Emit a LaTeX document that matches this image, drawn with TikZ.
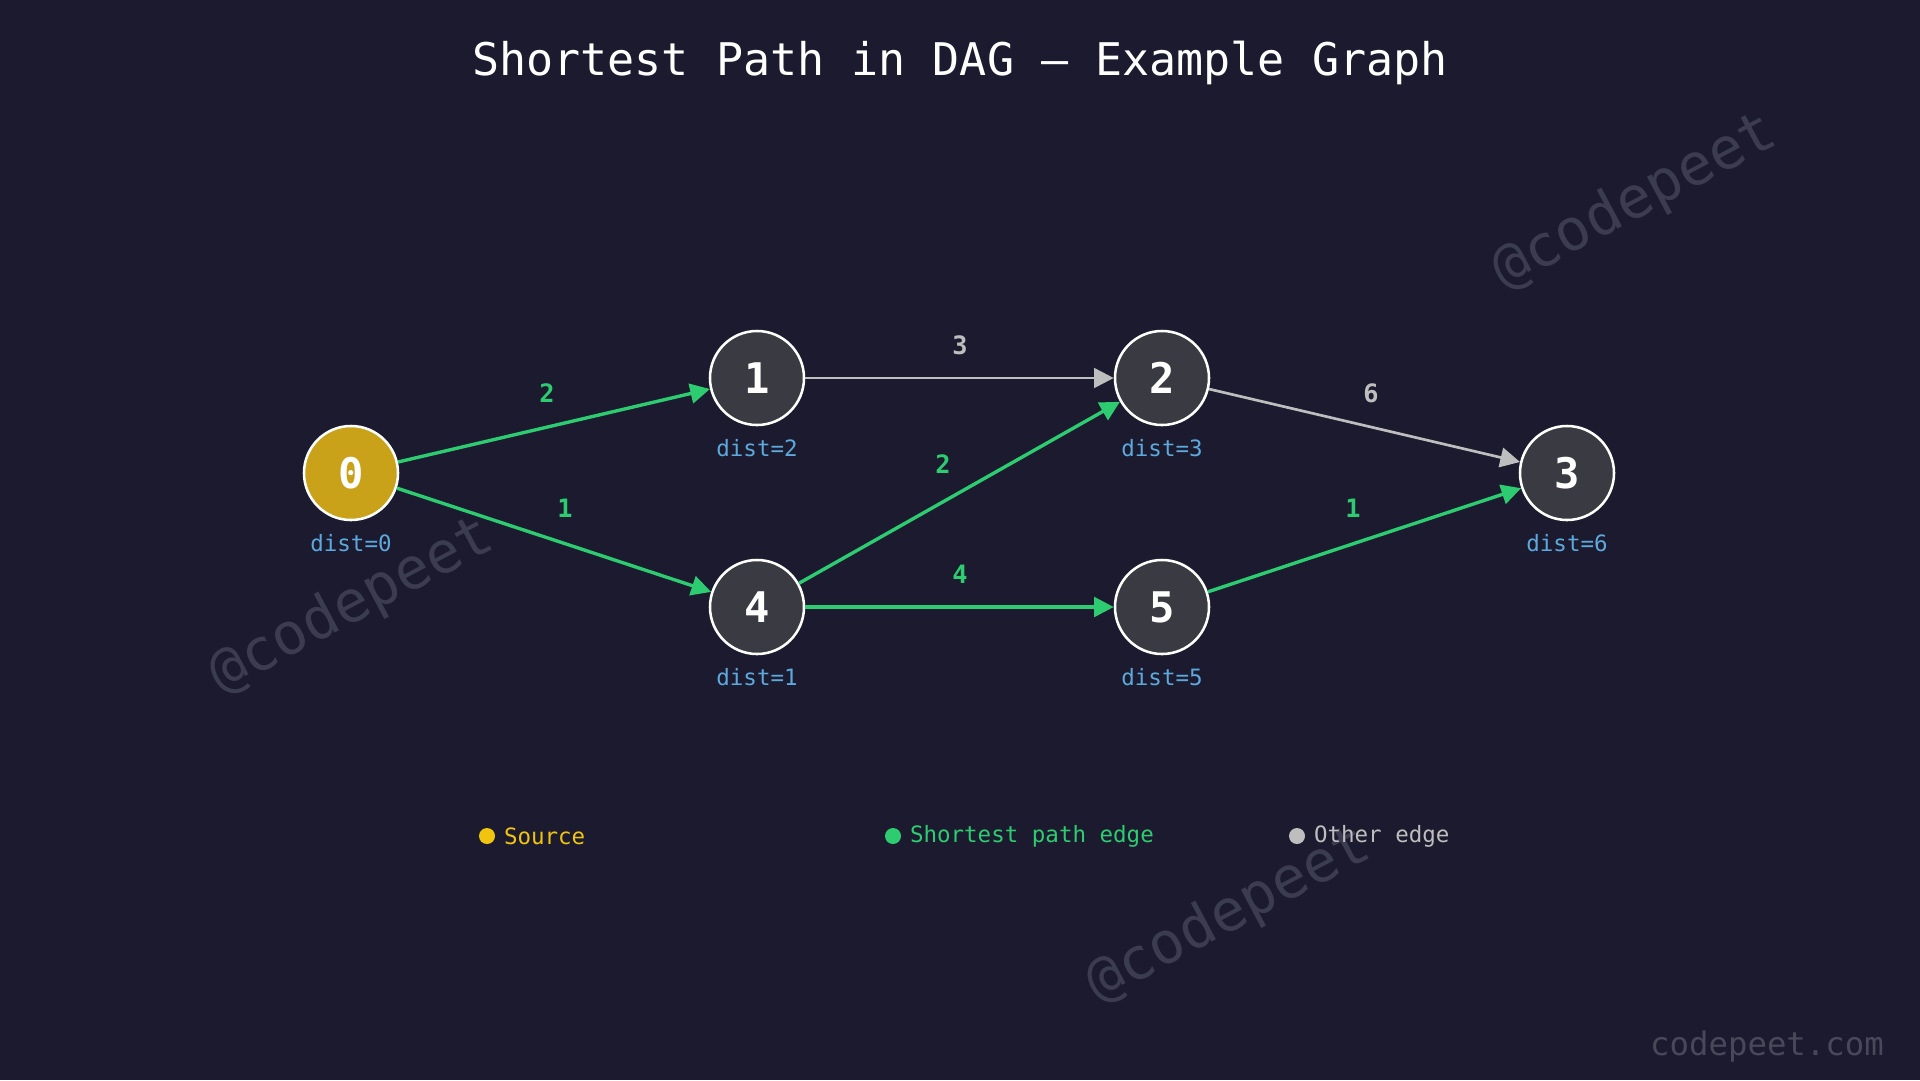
\documentclass[tikz,border=0pt]{standalone}
\usepackage{xcolor}
\usepackage{fontspec}
\setmainfont{DejaVu Sans Mono}
\usetikzlibrary{arrows.meta, positioning, calc}
\definecolor{bgcolor}{RGB}{27,26,46}
\definecolor{nodecolor}{RGB}{58,58,66}
\definecolor{sourcecolor}{RGB}{201,162,26}
\definecolor{pathcolor}{RGB}{46,204,113}
\definecolor{othercolor}{RGB}{190,190,190}
\definecolor{distcolor}{RGB}{93,169,221}
\definecolor{legendyellow}{RGB}{241,196,15}
\definecolor{markcolor}{RGB}{60,60,80}
\definecolor{sitecolor}{RGB}{72,72,90}

\begin{document}
\begin{tikzpicture}[
    x=0.025cm, y=-0.025cm,
    vertex/.style={circle, draw=white, line width=1.8pt, fill=nodecolor, minimum size=2.35cm, inner sep=0pt, text=white, font=\fontsize{30}{30}\selectfont\bfseries},
    dist/.style={text=distcolor, font=\fontsize{16}{16}\selectfont},
    short/.style={-{Triangle[length=14pt, width=14pt]}, line width=2.4pt, pathcolor},
    other/.style={-{Triangle[length=14pt, width=14pt]}, line width=1.9pt, othercolor},
    wshort/.style={text=pathcolor, font=\fontsize{18}{18}\selectfont\bfseries},
    wother/.style={text=othercolor, font=\fontsize{18}{18}\selectfont\bfseries},
    dot/.style={circle, inner sep=0pt, minimum size=0.4cm},
    legend/.style={inner sep=0pt, font=\fontsize{16}{16}\selectfont},
    watermark/.style={text=markcolor, rotate=28, font=\fontsize{41}{41}\selectfont}
]
    % Background
    \fill[bgcolor] (0,0) rectangle (1920,1080);
    \useasboundingbox (0,0) rectangle (1920,1080);

    % Watermarks
    \node[watermark] (wm1) at (1635,202) {@codepeet};
    \node[watermark] (wm2) at (352,606) {@codepeet};
    \node[watermark] (wm3) at (1229,915) {@codepeet};
    \node[text=sitecolor, font=\fontsize{23}{23}\selectfont] (site) at (1767,1047) {codepeet.com};

    % Title
    \node[text=white, font=\fontsize{32}{32}\selectfont] (title) at (960,63) {Shortest Path in DAG — Example Graph};

    % Vertices
    \node[vertex, fill=sourcecolor] (n0) at (351,473) {0};
    \node[vertex] (n1) at (757,378) {1};
    \node[vertex] (n4) at (757,607) {4};
    \node[vertex] (n2) at (1162,378) {2};
    \node[vertex] (n5) at (1162,607) {5};
    \node[vertex] (n3) at (1567,473) {3};

    % Distances
    \node[dist] (d0) at (351,543) {dist=0};
    \node[dist] (d1) at (757,448) {dist=2};
    \node[dist] (d4) at (757,677) {dist=1};
    \node[dist] (d2) at (1162,448) {dist=3};
    \node[dist] (d5) at (1162,677) {dist=5};
    \node[dist] (d3) at (1567,543) {dist=6};

    % Edges
    \draw[short] (n0) -- (n1);
    \draw[short] (n0) -- (n4);
    \draw[other] (n1) -- (n2);
    \draw[short] (n4) -- (n2);
    \draw[short] (n4) -- (n5);
    \draw[other] (n2) -- (n3);
    \draw[short] (n5) -- (n3);

    % Weights
    \node[wshort] (w01) at (547,393) {2};
    \node[wshort] (w04) at (565,508) {1};
    \node[wother] (w12) at (960,345) {3};
    \node[wshort] (w42) at (943,464) {2};
    \node[wshort] (w45) at (960,574) {4};
    \node[wother] (w23) at (1371,393) {6};
    \node[wshort] (w53) at (1353,508) {1};

    % Legend
    \node[dot, fill=legendyellow] (k1) at (487,836) {};
    \node[legend, text=legendyellow, right=6pt of k1] (l1) {Source};
    \node[dot, fill=pathcolor] (k2) at (893,836) {};
    \node[legend, text=pathcolor, right=6pt of k2] (l2) {Shortest path edge};
    \node[dot, fill=othercolor] (k3) at (1297,836) {};
    \node[legend, text=othercolor, right=6pt of k3] (l3) {Other edge};
\end{tikzpicture}
\end{document}
